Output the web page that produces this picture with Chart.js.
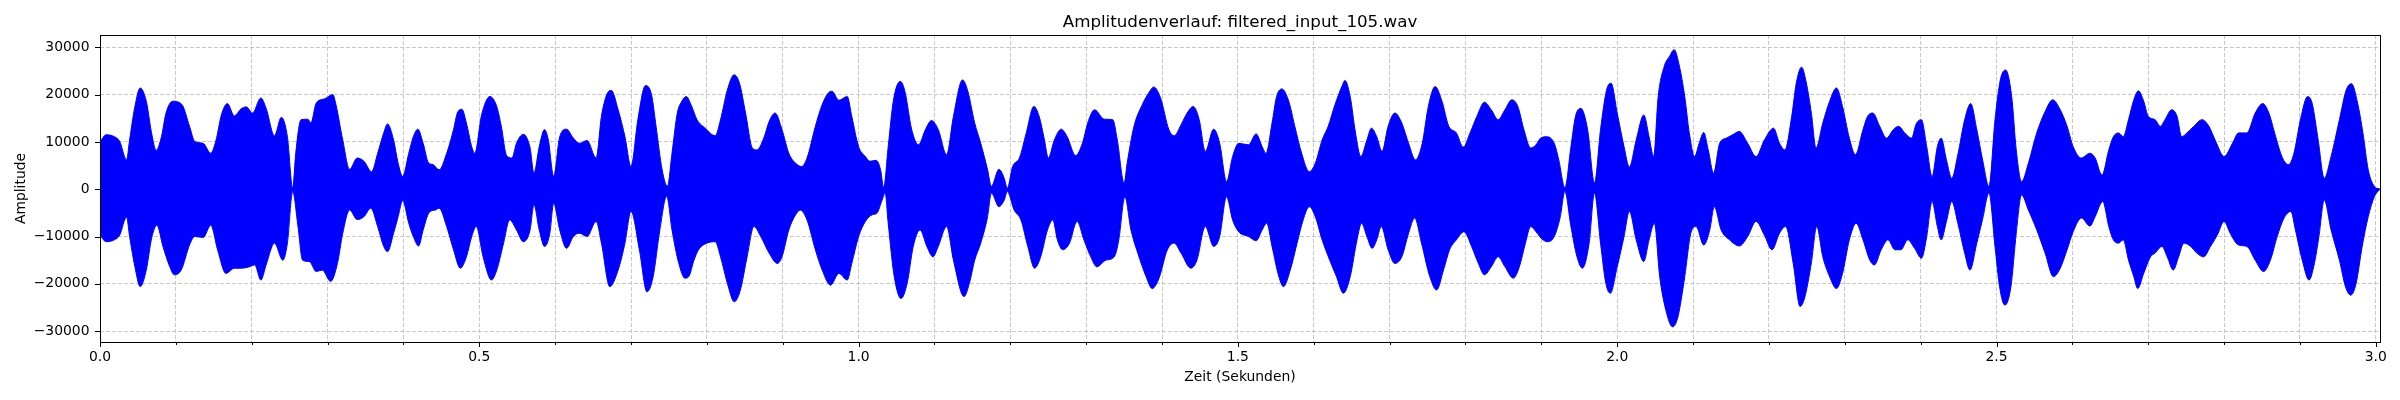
<!DOCTYPE html>
<html lang="de">

<head>
    <meta charset="UTF-8">
    <title>Amplitudenverlauf: filtered_input_105.wav</title>
    <script src="https://cdn.jsdelivr.net/npm/chart.js"></script>
    <style>
        body {
            margin: 0;
            background: #fff;
        }

        .chart-container {
            position: relative;
            width: 2400px;
            height: 400px;
        }
    </style>
</head>

<body>
    <div class="chart-container">
        <canvas id="graficoOnda"></canvas>
    </div>

    <script>
        // Hüllkurve der Wellenform (Zeit in s, Amplitude)
        const obenZeit = [
            0.000, 0.008, 0.019, 0.026, 0.035, 0.039, 0.046, 0.053, 0.061, 0.068,
            0.074, 0.081, 0.087, 0.096, 0.108, 0.118, 0.125, 0.136, 0.146, 0.153,
            0.160, 0.168, 0.177, 0.186, 0.193, 0.201, 0.212, 0.219, 0.230, 0.239,
            0.247, 0.254, 0.258, 0.265, 0.274, 0.278, 0.285, 0.296, 0.307, 0.311,
            0.320, 0.329, 0.339, 0.348, 0.358, 0.366, 0.374, 0.379, 0.387, 0.393,
            0.399, 0.407, 0.413, 0.419, 0.426, 0.433, 0.439, 0.447, 0.457, 0.466,
            0.471, 0.477, 0.483, 0.490, 0.494, 0.503, 0.514, 0.523, 0.529, 0.536,
            0.543, 0.549, 0.558, 0.567, 0.572, 0.579, 0.586, 0.591, 0.598, 0.606,
            0.615, 0.624, 0.632, 0.642, 0.654, 0.661, 0.668, 0.674, 0.683, 0.692,
            0.700, 0.709, 0.719, 0.727, 0.733, 0.741, 0.748, 0.754, 0.761, 0.767,
            0.773, 0.779, 0.787, 0.798, 0.811, 0.818, 0.827, 0.836, 0.843, 0.851,
            0.860, 0.866, 0.875, 0.882, 0.890, 0.899, 0.908, 0.917, 0.925, 0.932,
            0.943, 0.952, 0.961, 0.965, 0.974, 0.985, 0.991, 1.000, 1.009, 1.015,
            1.023, 1.029, 1.033, 1.039, 1.046, 1.055, 1.061, 1.070, 1.079, 1.088,
            1.096, 1.105, 1.116, 1.125, 1.137, 1.144, 1.153, 1.161, 1.170, 1.175,
            1.185, 1.192, 1.196, 1.203, 1.212, 1.221, 1.231, 1.238, 1.245, 1.250,
            1.258, 1.267, 1.275, 1.286, 1.295, 1.302, 1.311, 1.324, 1.335, 1.341,
            1.350, 1.354, 1.363, 1.374, 1.383, 1.389, 1.398, 1.409, 1.416, 1.425,
            1.433, 1.441, 1.449, 1.457, 1.468, 1.476, 1.485, 1.493, 1.501, 1.514,
            1.524, 1.532, 1.537, 1.545, 1.551, 1.558, 1.567, 1.575, 1.584, 1.594,
            1.602, 1.611, 1.619, 1.628, 1.637, 1.641, 1.648, 1.655, 1.662, 1.670,
            1.676, 1.683, 1.690, 1.698, 1.707, 1.716, 1.725, 1.734, 1.743, 1.751,
            1.760, 1.769, 1.778, 1.788, 1.797, 1.806, 1.815, 1.825, 1.834, 1.843,
            1.852, 1.861, 1.869, 1.877, 1.886, 1.893, 1.899, 1.907, 1.917, 1.923,
            1.931, 1.939, 1.945, 1.952, 1.961, 1.970, 1.978, 1.986, 1.992, 2.000,
            2.009, 2.016, 2.025, 2.035, 2.042, 2.048, 2.054, 2.062, 2.069, 2.075,
            2.082, 2.089, 2.095, 2.102, 2.108, 2.114, 2.120, 2.127, 2.135, 2.144,
            2.152, 2.161, 2.172, 2.183, 2.194, 2.206, 2.214, 2.221, 2.230, 2.236,
            2.243, 2.249, 2.256, 2.262, 2.271, 2.280, 2.289, 2.297, 2.306, 2.314,
            2.324, 2.330, 2.337, 2.346, 2.355, 2.364, 2.371, 2.379, 2.388, 2.394,
            2.401, 2.408, 2.415, 2.422, 2.427, 2.434, 2.441, 2.449, 2.458, 2.466,
            2.474, 2.482, 2.490, 2.498, 2.505, 2.512, 2.520, 2.526, 2.533, 2.542,
            2.553, 2.564, 2.574, 2.584, 2.593, 2.601, 2.612, 2.623, 2.630, 2.639,
            2.648, 2.654, 2.661, 2.667, 2.674, 2.681, 2.687, 2.694, 2.700, 2.709,
            2.716, 2.722, 2.731, 2.738, 2.744, 2.751, 2.760, 2.771, 2.780, 2.789,
            2.800, 2.811, 2.819, 2.830, 2.841, 2.851, 2.859, 2.868, 2.877, 2.885,
            2.892, 2.901, 2.910, 2.916, 2.924, 2.932, 2.941, 2.952, 2.961, 2.968,
            2.976, 2.983, 2.990, 2.998, 3.005
        ];
        const obenWert = [
            10000, 11500, 11100, 10100, 6200, 10400, 17500, 21400, 18600, 11900,
            8200, 11100, 16100, 18600, 17900, 13300, 10100, 9700, 7600, 10400,
            15700, 18100, 15500, 17000, 17400, 16100, 19300, 17100, 11300, 15200,
            11100, 200, 7600, 14700, 14800, 14000, 18200, 19100, 20000, 17900,
            10400, 4200, 6600, 5900, 3700, 7600, 11900, 13800, 10400, 5500,
            2700, 7600, 11100, 12700, 9700, 5600, 5200, 4100, 7600, 12600,
            16100, 16900, 14000, 9000, 7600, 15700, 19600, 17500, 13300, 7100,
            6600, 9700, 11600, 8700, 3400, 9000, 12600, 10400, 2700, 11100,
            12700, 10800, 9700, 10300, 6600, 15400, 20000, 20900, 16800, 11100,
            4800, 14700, 21900, 20000, 13300, 4100, 600, 7600, 16100, 18600,
            19600, 17900, 14700, 12900, 11300, 14700, 21000, 24200, 22400, 16100,
            8700, 8300, 10800, 14300, 16100, 12600, 7600, 5500, 4800, 6600,
            13300, 17900, 20500, 20700, 18800, 19600, 15400, 9000, 6900, 5900,
            6100, 4100, 300, 9000, 18900, 22800, 20700, 12600, 9400, 12600,
            14500, 12600, 7300, 15400, 23100, 20700, 14000, 9700, 4100, 600,
            4200, 2300, 200, 4800, 6600, 11900, 17500, 15400, 10400, 6600,
            10400, 12700, 11100, 7100, 9700, 14000, 16800, 14800, 14700, 10400,
            1300, 5500, 13300, 17900, 20500, 21600, 19300, 12600, 11300, 13600,
            16100, 17500, 14700, 8000, 12700, 9700, 1600, 6900, 9700, 9400,
            11700, 9000, 7600, 14000, 19600, 21200, 18600, 13300, 7600, 3700,
            5500, 10400, 13300, 17900, 21700, 23000, 19600, 11900, 6900, 10400,
            12900, 11100, 8000, 13300, 16100, 14000, 9700, 6200, 9700, 17500,
            21700, 18600, 13300, 11900, 8900, 11900, 15400, 18400, 16800, 14700,
            16800, 18900, 17500, 12600, 8700, 9400, 10800, 11100, 9700, 6200,
            300, 9000, 15400, 17100, 12600, 1300, 12600, 21000, 22400, 16100,
            9000, 4700, 10400, 15700, 11100, 6900, 19600, 26000, 28100, 29500,
            26000, 19600, 11900, 6900, 9700, 12000, 8300, 3400, 9700, 10800,
            11500, 12200, 9700, 6900, 10400, 12900, 9700, 8300, 15400, 22400,
            25800, 22700, 16000, 8700, 14000, 18600, 21400, 17500, 10800, 7300,
            12600, 15400, 16100, 13300, 10800, 12600, 13300, 11900, 10800, 13800,
            14700, 9000, 2700, 9000, 10800, 6200, 2300, 7300, 14700, 18100,
            12600, 5900, 600, 14700, 23100, 25200, 19600, 8300, 1600, 5500,
            11900, 16400, 18900, 16800, 13300, 9000, 6600, 7600, 6600, 3000,
            8300, 11100, 11900, 11100, 14700, 18900, 20800, 18600, 15400, 14700,
            13300, 14700, 16800, 15400, 11100, 11900, 13300, 14700, 13300, 10100,
            6900, 9700, 11900, 11900, 16100, 18100, 16100, 11100, 6600, 5200,
            7600, 15000, 19600, 18200, 10400, 2300, 6900, 14700, 21000, 22300,
            18200, 11900, 4100, 600, 0
        ];
        const untenZeit = [
            0.000, 0.008, 0.019, 0.026, 0.035, 0.039, 0.046, 0.053, 0.061, 0.068,
            0.075, 0.083, 0.092, 0.098, 0.107, 0.118, 0.125, 0.136, 0.146, 0.155,
            0.166, 0.177, 0.186, 0.195, 0.204, 0.212, 0.219, 0.230, 0.241, 0.247,
            0.254, 0.261, 0.267, 0.276, 0.285, 0.293, 0.304, 0.313, 0.320, 0.329,
            0.339, 0.348, 0.357, 0.366, 0.374, 0.379, 0.387, 0.393, 0.399, 0.407,
            0.413, 0.420, 0.426, 0.434, 0.442, 0.447, 0.457, 0.466, 0.475, 0.483,
            0.490, 0.496, 0.505, 0.516, 0.523, 0.532, 0.540, 0.549, 0.558, 0.567,
            0.572, 0.579, 0.586, 0.593, 0.598, 0.606, 0.615, 0.624, 0.632, 0.642,
            0.654, 0.661, 0.672, 0.683, 0.692, 0.700, 0.711, 0.721, 0.729, 0.738,
            0.747, 0.754, 0.763, 0.771, 0.776, 0.783, 0.789, 0.800, 0.811, 0.818,
            0.827, 0.836, 0.844, 0.853, 0.862, 0.871, 0.882, 0.893, 0.899, 0.908,
            0.917, 0.923, 0.932, 0.943, 0.952, 0.963, 0.974, 0.985, 0.991, 1.000,
            1.009, 1.018, 1.024, 1.031, 1.035, 1.039, 1.047, 1.056, 1.064, 1.072,
            1.081, 1.090, 1.098, 1.105, 1.116, 1.125, 1.139, 1.146, 1.153, 1.161,
            1.170, 1.175, 1.185, 1.192, 1.196, 1.205, 1.214, 1.223, 1.232, 1.240,
            1.249, 1.256, 1.262, 1.269, 1.278, 1.288, 1.297, 1.306, 1.314, 1.326,
            1.337, 1.343, 1.351, 1.359, 1.368, 1.379, 1.387, 1.396, 1.407, 1.416,
            1.425, 1.438, 1.446, 1.457, 1.468, 1.476, 1.485, 1.493, 1.501, 1.514,
            1.524, 1.532, 1.538, 1.545, 1.554, 1.560, 1.569, 1.578, 1.586, 1.594,
            1.602, 1.611, 1.621, 1.630, 1.639, 1.648, 1.657, 1.663, 1.670, 1.677,
            1.683, 1.689, 1.698, 1.707, 1.716, 1.725, 1.733, 1.742, 1.753, 1.762,
            1.771, 1.779, 1.788, 1.798, 1.808, 1.817, 1.825, 1.834, 1.843, 1.852,
            1.863, 1.871, 1.879, 1.886, 1.893, 1.900, 1.908, 1.917, 1.925, 1.931,
            1.939, 1.947, 1.954, 1.963, 1.970, 1.978, 1.985, 1.991, 2.000, 2.009,
            2.016, 2.025, 2.035, 2.042, 2.049, 2.056, 2.064, 2.073, 2.080, 2.089,
            2.097, 2.104, 2.114, 2.122, 2.128, 2.137, 2.148, 2.161, 2.172, 2.183,
            2.194, 2.204, 2.214, 2.222, 2.232, 2.241, 2.247, 2.256, 2.263, 2.271,
            2.280, 2.289, 2.297, 2.306, 2.315, 2.324, 2.333, 2.339, 2.348, 2.357,
            2.366, 2.374, 2.383, 2.392, 2.401, 2.408, 2.415, 2.422, 2.427, 2.434,
            2.441, 2.449, 2.458, 2.465, 2.474, 2.482, 2.490, 2.498, 2.504, 2.511,
            2.519, 2.526, 2.533, 2.542, 2.553, 2.564, 2.575, 2.584, 2.593, 2.601,
            2.612, 2.623, 2.630, 2.640, 2.648, 2.654, 2.661, 2.667, 2.674, 2.681,
            2.686, 2.694, 2.703, 2.709, 2.718, 2.725, 2.733, 2.740, 2.747, 2.756,
            2.764, 2.773, 2.782, 2.791, 2.800, 2.808, 2.819, 2.830, 2.841, 2.852,
            2.861, 2.870, 2.879, 2.888, 2.894, 2.903, 2.912, 2.919, 2.925, 2.932,
            2.941, 2.952, 2.960, 2.967, 2.974, 2.982, 2.990, 2.998, 3.005
        ];
        const untenWert = [
            -9700, -11100, -10700, -9700, -5900, -10000, -16400, -20600, -17100, -10400,
            -7600, -12100, -16400, -18100, -17100, -11800, -10000, -10200, -7600, -12800,
            -17800, -16700, -16700, -16500, -16000, -19200, -16000, -11400, -15000, -11400,
            -500, -7900, -15000, -15300, -17400, -17100, -19500, -15700, -9300, -4400,
            -6400, -5800, -4000, -7900, -12100, -13200, -9300, -5800, -2400, -7200,
            -10000, -12000, -8600, -4900, -4400, -4000, -7900, -12800, -16700, -14300,
            -10000, -7900, -14300, -19200, -17100, -11400, -6500, -8600, -11100, -8600,
            -3300, -8600, -12100, -9300, -3000, -8600, -12500, -10000, -9300, -10000,
            -6800, -11400, -20600, -17100, -11400, -4700, -12800, -21700, -18600, -8600,
            -1500, -8600, -15700, -18800, -18500, -15000, -12800, -11400, -11100, -14300,
            -19900, -23800, -21400, -14300, -7900, -10000, -13500, -15700, -14300, -8600,
            -5400, -4400, -6500, -12800, -17100, -20300, -17800, -19200, -15700, -10000,
            -6800, -5400, -5100, -2300, -800, -7200, -18500, -23100, -19900, -12100,
            -8600, -12100, -14300, -12100, -7900, -15000, -22700, -19900, -15000, -11400,
            -5800, -800, -3700, -2300, -500, -4400, -6500, -12100, -16700, -14300,
            -8600, -6500, -10700, -12800, -11400, -6800, -10700, -14300, -16400, -15000,
            -14300, -10700, -1600, -8600, -13500, -18500, -21000, -18800, -12800, -11400,
            -13500, -16700, -15000, -7900, -12100, -10000, -1600, -6500, -9000, -10000,
            -10900, -8600, -7200, -12100, -18500, -20600, -17100, -11400, -6500, -3700,
            -5800, -10700, -15000, -18500, -22000, -18500, -10700, -7200, -10000, -12500,
            -10700, -7900, -12800, -15700, -14300, -9300, -6100, -11400, -18500, -21300,
            -17100, -12800, -10700, -9000, -12100, -15700, -18100, -16400, -14300, -16400,
            -18800, -16400, -11400, -7900, -9000, -10400, -11100, -10000, -5800, -500,
            -7900, -14300, -16700, -11400, -800, -11400, -19900, -22000, -16400, -10000,
            -4700, -10700, -15300, -10700, -7200, -18500, -25500, -29100, -27000, -18500,
            -9300, -7900, -11800, -8600, -3700, -8600, -10700, -12000, -10000, -6800,
            -9700, -12800, -9300, -7900, -15700, -24800, -23000, -15500, -7900, -14300,
            -18500, -21000, -17800, -10700, -7200, -10700, -15000, -16000, -12800, -10700,
            -12800, -12800, -10700, -12500, -14600, -10000, -2600, -7900, -10700, -6800,
            -2600, -7200, -13500, -17100, -11400, -6100, -800, -12100, -20600, -24500,
            -20600, -9300, -1200, -4400, -8600, -13500, -18500, -16700, -12800, -9000,
            -6100, -7800, -5800, -2600, -7900, -10700, -11400, -10700, -15000, -18500,
            -21000, -17800, -14300, -13500, -12100, -14300, -17100, -14300, -11400, -12100,
            -13500, -14300, -12100, -9700, -6800, -9300, -11800, -12100, -15000, -17400,
            -15000, -10000, -6100, -4700, -8600, -15000, -19200, -15700, -10000, -2300,
            -8600, -15000, -20600, -22400, -19900, -12100, -5800, -1600, 0
        ];

        // Achsen
        const ampTicks = [-30000, -20000, -10000, 0, 10000, 20000, 30000];
        const zeitMax = 3.0055;
        const ampMin = -32300, ampMax = 32600;

        const blau = '#0000ff';
        const gitterFarbe = 'rgba(176, 176, 176, 0.7)';
        const schrift = { family: 'DejaVu Sans', size: 13.9 };

        // Rahmen und Tick-Striche wie bei matplotlib
        const achsenRahmen = {
            id: 'achsenRahmen',
            afterDraw(chart) {
                const { ctx, chartArea: a, scales: { x, y } } = chart;
                ctx.save();
                ctx.strokeStyle = '#000';
                ctx.lineWidth = 1;
                ctx.beginPath();
                x.ticks.forEach(t => {
                    const px = Math.round(x.getPixelForValue(t.value)) + 0.5;
                    const len = t.label ? 5 : 3;
                    ctx.moveTo(px, a.bottom);
                    ctx.lineTo(px, a.bottom + len);
                });
                y.ticks.forEach(t => {
                    const py = Math.round(y.getPixelForValue(t.value)) + 0.5;
                    ctx.moveTo(a.left, py);
                    ctx.lineTo(a.left - 5, py);
                });
                ctx.stroke();
                ctx.strokeRect(Math.round(a.left) + 0.5, Math.round(a.top) + 0.5,
                    Math.round(a.right - a.left), Math.round(a.bottom - a.top));
                ctx.restore();
            }
        };

        function punkte(zeiten, werte) {
            return zeiten.map((t, i) => ({ x: t, y: werte[i] }));
        }

        new Chart(document.getElementById('graficoOnda'), {
            type: 'line',
            data: {
                datasets: [
                    {
                        data: punkte(obenZeit, obenWert),
                        borderColor: blau,
                        backgroundColor: blau,
                        borderWidth: 1,
                        pointRadius: 0,
                        // leicht über die Nulllinie hinaus, damit keine Naht bleibt
                        fill: { value: -250 },
                        cubicInterpolationMode: 'monotone'
                    },
                    {
                        data: punkte(untenZeit, untenWert),
                        borderColor: blau,
                        backgroundColor: blau,
                        borderWidth: 1,
                        pointRadius: 0,
                        fill: { value: 250 },
                        cubicInterpolationMode: 'monotone'
                    }
                ]
            },
            options: {
                responsive: true,
                maintainAspectRatio: false,
                devicePixelRatio: 1,
                animation: false,
                layout: { padding: { left: 0, right: 20, top: 0, bottom: 0 } },
                plugins: {
                    legend: { display: false },
                    tooltip: { enabled: false }
                },
                scales: {
                    x: {
                        type: 'linear',
                        position: 'bottom',
                        min: 0,
                        max: zeitMax,
                        afterFit: s => { s.height = 58; },
                        grid: { color: gitterFarbe, lineWidth: 1, drawTicks: false },
                        border: { display: false, dash: [4, 2] },
                        ticks: {
                            stepSize: 0.1,
                            includeBounds: false,
                            autoSkip: false,
                            maxRotation: 0,
                            padding: 7,
                            color: '#000',
                            font: schrift,
                            callback: v => Math.abs(v * 2 - Math.round(v * 2)) < 1e-6 ? v.toFixed(1) : ''
                        },
                        title: {
                            display: true,
                            text: 'Zeit (Sekunden)',
                            color: '#000',
                            font: schrift,
                            padding: { top: 0, bottom: 14.2 }
                        }
                    },
                    xOben: {
                        type: 'linear',
                        axis: 'x',
                        position: 'top',
                        min: 0,
                        max: 1,
                        afterFit: s => { s.height = 35; },
                        grid: { display: false },
                        border: { display: false },
                        ticks: { display: false },
                        title: {
                            display: true,
                            text: 'Amplitudenverlauf: filtered_input_105.wav',
                            color: '#000',
                            font: { family: 'DejaVu Sans', size: 16.7 },
                            padding: { top: 12.3, bottom: 0 }
                        }
                    },
                    y: {
                        type: 'linear',
                        min: ampMin,
                        max: ampMax,
                        afterFit: s => { s.width = 100; },
                        afterBuildTicks: s => { s.ticks = ampTicks.map(v => ({ value: v })); },
                        grid: { color: gitterFarbe, lineWidth: 1, drawTicks: false },
                        border: { display: false, dash: [4, 2] },
                        ticks: {
                            autoSkip: false,
                            padding: 10.5,
                            color: '#000',
                            font: schrift,
                            callback: v => v < 0 ? '\u2212' + Math.abs(v) : String(v)
                        },
                        title: {
                            display: true,
                            text: 'Amplitude',
                            color: '#000',
                            font: schrift,
                            padding: { top: 12.6, bottom: 0 }
                        }
                    }
                }
            },
            plugins: [achsenRahmen]
        });
    </script>
</body>

</html>
